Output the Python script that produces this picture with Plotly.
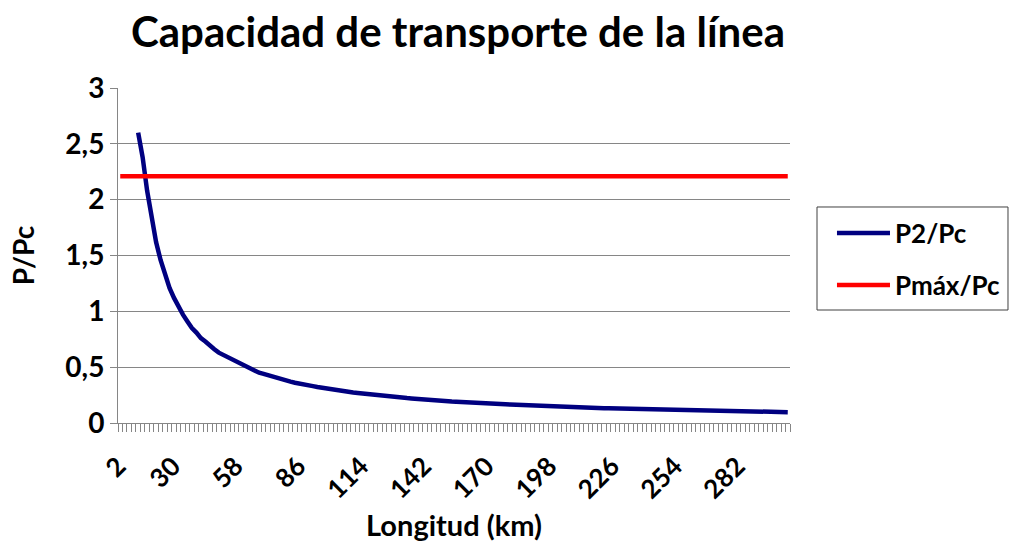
import plotly.graph_objects as go

# Line length in km (categories every 2 km, from 2 to 300)
longitud_km = list(range(2, 301, 2))

# P2/Pc; no values for the first four lengths
p2_pc = [None, None, None, None,
    2.60, 2.38, 2.08, 1.82, 1.62, 1.46, 1.32, 1.21, 1.12, 1.04,
    0.97, 0.91, 0.85, 0.81, 0.76, 0.73, 0.69, 0.66, 0.63, 0.61,
    0.58, 0.56, 0.54, 0.52, 0.50, 0.48, 0.47, 0.45, 0.44, 0.43,
    0.41, 0.40, 0.39, 0.38, 0.37, 0.36, 0.35, 0.345, 0.337, 0.33,
    0.322, 0.315, 0.309, 0.302, 0.296, 0.29, 0.284, 0.279, 0.274, 0.269,
    0.264, 0.259, 0.254, 0.25, 0.246, 0.242, 0.238, 0.234, 0.23, 0.227,
    0.223, 0.22, 0.216, 0.213, 0.21, 0.207, 0.204, 0.201, 0.199, 0.196,
    0.193, 0.191, 0.188, 0.186, 0.184, 0.181, 0.179, 0.177, 0.175, 0.173,
    0.171, 0.169, 0.167, 0.165, 0.163, 0.161, 0.159, 0.158, 0.156, 0.155,
    0.153, 0.151, 0.15, 0.148, 0.147, 0.145, 0.144, 0.142, 0.141, 0.139,
    0.138, 0.137, 0.136, 0.134, 0.133, 0.132, 0.131, 0.129, 0.128, 0.127,
    0.126, 0.125, 0.124, 0.123, 0.122, 0.121, 0.12, 0.119, 0.118, 0.117,
    0.116, 0.115, 0.114, 0.113, 0.112, 0.112, 0.111, 0.11, 0.109, 0.108,
    0.107, 0.107, 0.106, 0.105, 0.104, 0.104, 0.103, 0.102, 0.101, 0.101,
    0.1, 0.099, 0.099, 0.098, 0.097, 0.097]

# Maximum transferable power ratio (constant)
pmax_pc_value = 2.21
pmax_pc = [pmax_pc_value] * len(longitud_km)

# Labelled lengths on the horizontal axis
x_tick_vals = list(range(2, 283, 28))
x_tick_text = [str(v) for v in x_tick_vals]

y_tick_vals = [0, 0.5, 1, 1.5, 2, 2.5, 3]

series_names = ["P2/Pc", "Pmáx/Pc"]
series_colors = ["#000080", "#FF0000"]

FONT = "Lato"
GRID = "#868686"
X_RANGE = [1, 301]
# rotated labels are pulled left so each one ends at its category
# (kept inside the axis range so the first label still shows)
LABEL_SHIFT = 4.5
label_positions = [max(v - LABEL_SHIFT, X_RANGE[0] + 0.05) for v in x_tick_vals]

# tick marks sit on the boundaries between 2-km categories
boundary_ticks = list(range(1, 302, 2))

fig = go.Figure()
fig.add_trace(go.Scatter(
    x=longitud_km, y=p2_pc, mode="lines", name=series_names[0],
    line=dict(color=series_colors[0], width=4.5), connectgaps=False,
    showlegend=False,
))
fig.add_trace(go.Scatter(
    x=longitud_km, y=pmax_pc, mode="lines", name=series_names[1],
    line=dict(color=series_colors[1], width=4.5), xaxis="x2",
    showlegend=False,
))

# Boxed legend with long line samples beside the plot
legend_box = dict(x0=1.0402, x1=1.3244, y0=0.3373, y1=0.6448)
legend_rows_y = [0.5672, 0.4119]
fig.add_shape(type="rect", xref="paper", yref="paper",
              line=dict(color="#404040", width=1), fillcolor="white",
              **legend_box)
for name, color, ly in zip(series_names, series_colors, legend_rows_y):
    fig.add_shape(type="line", xref="paper", yref="paper",
                  x0=1.0699, x1=1.1488, y0=ly, y1=ly,
                  line=dict(color=color, width=4.5))
    fig.add_annotation(xref="paper", yref="paper", x=1.1535, y=ly,
                       xanchor="left", yanchor="middle", showarrow=False,
                       text=f"<b>{name}</b>",
                       font=dict(family=FONT, size=26, color="black"))

fig.update_layout(
    width=1011, height=545,
    margin=dict(l=118, r=221, t=88, b=122),
    paper_bgcolor="white", plot_bgcolor="white",
    separators=",.",
    font=dict(family=FONT, color="black"),
    title=dict(
        text="<b>Capacidad de transporte de la línea</b>",
        font=dict(family=FONT, size=42, color="black"),
        x=458 / 1011, xanchor="center", y=0.94, yanchor="middle",
    ),
    showlegend=False,
    xaxis=dict(
        range=X_RANGE, tickmode="array", tickvals=boundary_ticks,
        ticktext=[""] * len(boundary_ticks),
        ticks="outside", ticklen=8, tickcolor=GRID, tickwidth=1,
        showgrid=False, zeroline=False,
        showline=True, linecolor=GRID, linewidth=1,
        title=dict(text="<b>Longitud (km)</b>",
                   font=dict(family=FONT, size=29, color="black"),
                   standoff=82),
    ),
    xaxis2=dict(
        range=X_RANGE, overlaying="x", side="bottom", anchor="y",
        tickmode="array", tickvals=label_positions,
        ticktext=[f"<b>{t}</b>" for t in x_tick_text],
        tickangle=-45, tickfont=dict(family=FONT, size=26, color="black"),
        ticks="", ticklabelstandoff=22,
        showgrid=False, zeroline=False, showline=False,
    ),
    yaxis=dict(
        range=[0, 3], tickmode="array", tickvals=y_tick_vals,
        ticktext=[f"<b>{str(v).replace('.', ',')}</b>" for v in y_tick_vals],
        tickfont=dict(family=FONT, size=28, color="black"),
        ticks="outside", ticklen=7, tickcolor=GRID,
        showgrid=True, gridcolor=GRID, gridwidth=1, zeroline=False,
        showline=True, linecolor=GRID, linewidth=1,
        title=dict(text="<b>P/Pc</b>",
                   font=dict(family=FONT, size=28, color="black"), standoff=22),
    ),
)

fig.write_html("out.html")
